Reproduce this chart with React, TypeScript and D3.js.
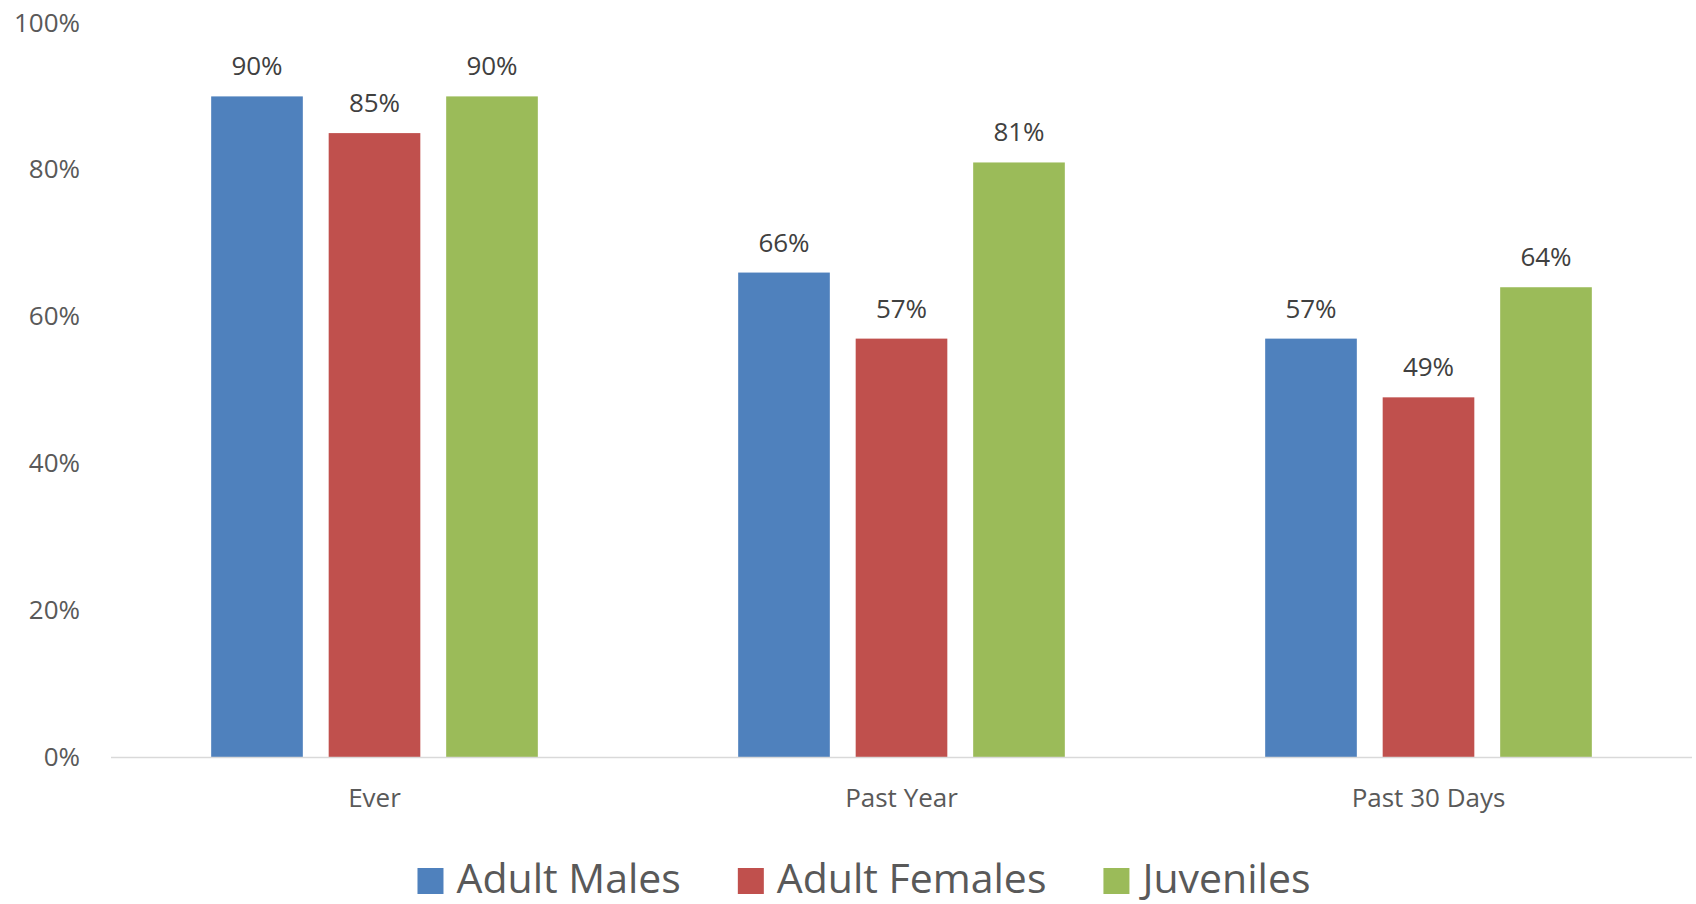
import React, { useEffect, useRef } from "react";
import * as d3 from "d3";

const categories = ["Ever", "Past Year", "Past 30 Days"];
const seriesNames = ["Adult Males", "Adult Females", "Juveniles"];
const adultMales = [0.9, 0.66, 0.57];
const adultFemales = [0.85, 0.57, 0.49];
const juveniles = [0.9, 0.81, 0.64];
const seriesColors = ["#4F81BD", "#C0504D", "#9BBB59"];
const yTicks = [0, 0.2, 0.4, 0.6, 0.8, 1.0];

const W = 1696;
const H = 904;
const FONT = "'Open Sans', 'Noto Sans', sans-serif";

export default function App() {
  const ref = useRef<SVGSVGElement | null>(null);

  useEffect(() => {
    const svg = d3.select(ref.current);
    svg.selectAll("*").remove();

    const left = 111, right = 1692, top = 23, bottom = 757;
    const values = [adultMales, adultFemales, juveniles];

    const x0 = d3.scaleBand<string>().domain(categories).range([left, right]).padding(0);
    const groupW = 352.5;
    const x1 = d3
      .scaleBand<string>()
      .domain(seriesNames)
      .range([-groupW / 2, groupW / 2])
      .paddingInner(0.22)
      .paddingOuter(0.11);
    const y = d3.scaleLinear().domain([0, 1]).range([bottom, top]);

    // y tick labels
    svg
      .append("g")
      .selectAll("text")
      .data(yTicks)
      .join("text")
      .attr("x", 80)
      .attr("y", (d) => y(d))
      .attr("dy", "0.33em")
      .attr("text-anchor", "end")
      .attr("font-family", FONT)
      .attr("font-size", 26)
      .attr("fill", "#595959")
      .text((d) => d3.format(".0%")(d));

    // bars
    const rows = categories.flatMap((c, ci) =>
      seriesNames.map((s, si) => ({ c, s, si, v: values[si][ci] }))
    );

    svg
      .append("g")
      .selectAll("rect")
      .data(rows)
      .join("rect")
      .attr("x", (d) => (x0(d.c) as number) + x0.bandwidth() / 2 + (x1(d.s) as number))
      .attr("y", (d) => y(d.v))
      .attr("width", x1.bandwidth())
      .attr("height", (d) => y(0) - y(d.v))
      .attr("fill", (d) => seriesColors[d.si]);

    // data labels
    svg
      .append("g")
      .selectAll("text")
      .data(rows)
      .join("text")
      .attr(
        "x",
        (d) => (x0(d.c) as number) + x0.bandwidth() / 2 + (x1(d.s) as number) + x1.bandwidth() / 2
      )
      .attr("y", (d) => y(d.v) - 21)
      .attr("text-anchor", "middle")
      .attr("font-family", FONT)
      .attr("font-size", 26)
      .attr("fill", "#404040")
      .text((d) => d3.format(".0%")(d.v));

    // axis line
    svg
      .append("line")
      .attr("x1", left)
      .attr("x2", right)
      .attr("y1", y(0) + 0.5)
      .attr("y2", y(0) + 0.5)
      .attr("stroke", "#D9D9D9")
      .attr("stroke-width", 1.5);

    // category labels
    svg
      .append("g")
      .selectAll("text")
      .data(categories)
      .join("text")
      .attr("x", (d) => (x0(d) as number) + x0.bandwidth() / 2)
      .attr("y", 807)
      .attr("text-anchor", "middle")
      .attr("font-family", FONT)
      .attr("font-size", 26)
      .attr("fill", "#595959")
      .text((d) => d);

    // legend
    const legendCenter = 864;
    const sq = 26;
    const gapSqText = 13;
    const gapItems = 57;
    const lg = svg.append("g");
    const items = seriesNames.map((name, i) => {
      const g = lg.append("g");
      g.append("rect").attr("width", sq).attr("height", sq).attr("y", 868).attr("fill", seriesColors[i]);
      const t = g
        .append("text")
        .attr("x", sq + gapSqText)
        .attr("y", 893)
        .attr("font-family", FONT)
        .attr("font-size", 41)
        .attr("fill", "#595959")
        .text(name);
      const tw = (t.node() as SVGTextElement).getComputedTextLength();
      return { g, w: sq + gapSqText + tw };
    });
    const total = d3.sum(items, (d) => d.w) + gapItems * (items.length - 1);
    let cx = legendCenter - total / 2;
    items.forEach((it) => {
      it.g.attr("transform", `translate(${cx},0)`);
      cx += it.w + gapItems;
    });
  }, []);

  return (
    <svg
      ref={ref}
      width={W}
      height={H}
      style={{ position: "absolute", left: 0, top: 0, display: "block", background: "#fff" }}
    />
  );
}
